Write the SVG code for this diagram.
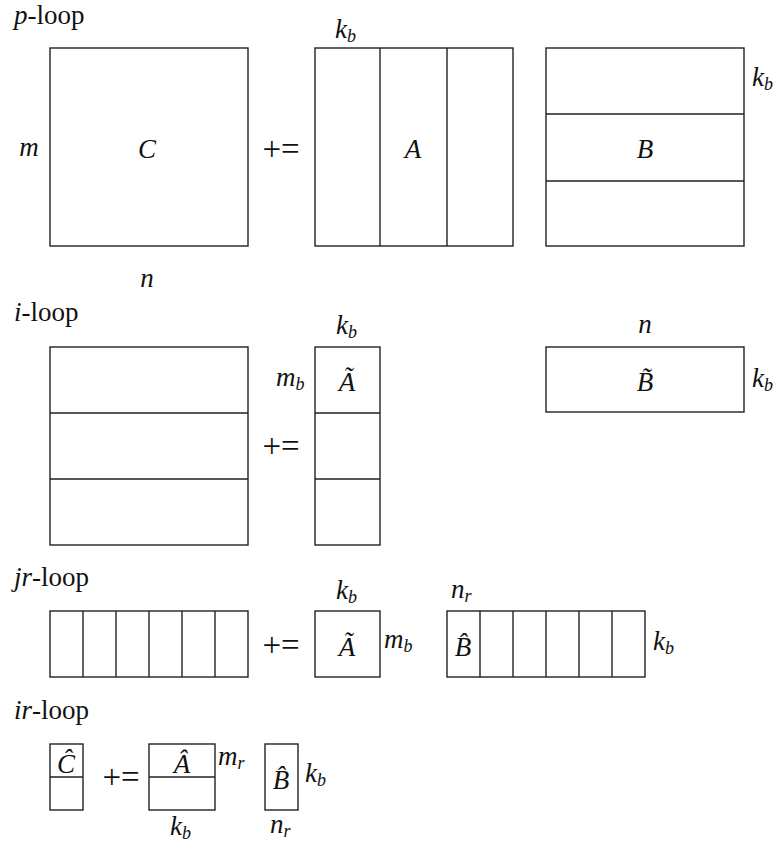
<svg xmlns="http://www.w3.org/2000/svg" width="778" height="846" viewBox="0 0 778 846" font-family="'Liberation Serif', 'Times New Roman', serif">
<style>
.b{fill:none;stroke:#222;stroke-width:1.4}
text{font-family:'Liberation Serif','Times New Roman',serif;font-size:27px;fill:#111}
.i{font-style:italic}
.s{font-size:18px}
.pe{font-size:33px}
</style>
<rect width="778" height="846" fill="#fff"/>
<g id="titles">
<text x="14" y="24"><tspan class="i">p</tspan>-loop</text>
<text x="14" y="321"><tspan class="i">i</tspan>-loop</text>
<text x="14" y="586"><tspan class="i">jr</tspan>-loop</text>
<text x="14" y="719"><tspan class="i">ir</tspan>-loop</text>
</g>
<g id="p-C">
<rect class="b" x="50" y="48" width="198" height="198"/>
<text class="i" x="147" y="158" text-anchor="middle">C</text>
<text class="i" x="29" y="156" text-anchor="middle">m</text>
<text class="i" x="147" y="287" text-anchor="middle">n</text>
</g>
<text class="pe" x="281" y="160" text-anchor="middle">+=</text>
<g id="p-A">
<rect class="b" x="315" y="48" width="198" height="198"/>
<path class="b" d="M380 48V246M447 48V246"/>
<text class="i" x="413" y="158" text-anchor="middle">A</text>
<text class="i" x="335" y="38">k<tspan class="s" dy="4">b</tspan></text>
</g>
<g id="p-B">
<rect class="b" x="546" y="48" width="198" height="198"/>
<path class="b" d="M546 114H744M546 181H744"/>
<text class="i" x="645" y="158" text-anchor="middle">B</text>
<text class="i" x="752" y="86">k<tspan class="s" dy="4">b</tspan></text>
</g>
<g id="i-C">
<rect class="b" x="50" y="347" width="198" height="198"/>
<path class="b" d="M50 413H248M50 479H248"/>
</g>
<text class="pe" x="281" y="457" text-anchor="middle">+=</text>
<g id="i-A">
<rect class="b" x="315" y="347" width="65" height="198"/>
<path class="b" d="M315 413H380M315 479H380"/>
<text class="i" x="347" y="391" text-anchor="middle">A&#x303;</text>
<text class="i" x="336" y="334">k<tspan class="s" dy="4">b</tspan></text>
<text class="i" x="276" y="386">m<tspan class="s" dy="4">b</tspan></text>
</g>
<g id="i-B">
<rect class="b" x="546" y="347" width="198" height="65"/>
<text class="i" x="645" y="391" text-anchor="middle">B&#x303;</text>
<text class="i" x="645" y="333" text-anchor="middle">n</text>
<text class="i" x="752" y="387">k<tspan class="s" dy="4">b</tspan></text>
</g>
<g id="jr-C">
<rect class="b" x="50" y="611" width="198" height="66"/>
<path class="b" d="M83 611V677M116 611V677M149 611V677M182 611V677M215 611V677"/>
</g>
<text class="pe" x="281" y="656" text-anchor="middle">+=</text>
<g id="jr-A">
<rect class="b" x="315" y="611" width="65" height="66"/>
<text class="i" x="347" y="656" text-anchor="middle">A&#x303;</text>
<text class="i" x="336" y="599">k<tspan class="s" dy="4">b</tspan></text>
<text class="i" x="384" y="648">m<tspan class="s" dy="4">b</tspan></text>
</g>
<g id="jr-B">
<rect class="b" x="447" y="611" width="198" height="66"/>
<path class="b" d="M480 611V677M513 611V677M546 611V677M579 611V677M612 611V677"/>
<text class="i" x="463" y="656" text-anchor="middle">B&#x302;</text>
<text class="i" x="451" y="598">n<tspan class="s" dy="4">r</tspan></text>
<text class="i" x="653" y="650">k<tspan class="s" dy="4">b</tspan></text>
</g>
<g id="ir-C">
<rect class="b" x="50" y="744" width="33" height="66"/>
<path class="b" d="M50 777H83"/>
<text class="i" x="66" y="773" text-anchor="middle">C&#x302;</text>
</g>
<text class="pe" x="121" y="788" text-anchor="middle">+=</text>
<g id="ir-A">
<rect class="b" x="149" y="744" width="66" height="66"/>
<path class="b" d="M149 777H215"/>
<text class="i" x="182" y="773" text-anchor="middle">A&#x302;</text>
<text class="i" x="218" y="765">m<tspan class="s" dy="4">r</tspan></text>
<text class="i" x="170" y="835">k<tspan class="s" dy="4">b</tspan></text>
</g>
<g id="ir-B">
<rect class="b" x="265" y="744" width="33" height="66"/>
<text class="i" x="281" y="789" text-anchor="middle">B&#x302;</text>
<text class="i" x="305" y="782">k<tspan class="s" dy="4">b</tspan></text>
<text class="i" x="270" y="833">n<tspan class="s" dy="4">r</tspan></text>
</g>
</svg>
